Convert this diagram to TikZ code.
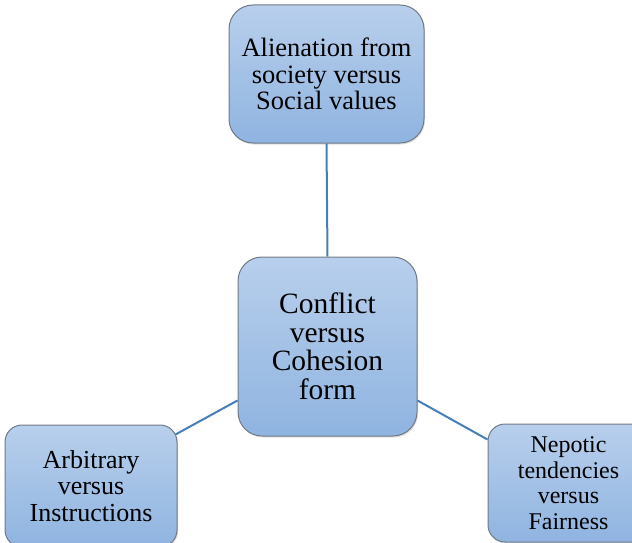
\documentclass[tikz,border=0pt]{standalone}
\usepackage{fontspec}
\setmainfont{Liberation Serif}
\usetikzlibrary{calc,shadows}
\definecolor{BoxTop}{RGB}{184,207,236}
\definecolor{BoxBottom}{RGB}{143,180,224}
\definecolor{BoxEdge}{RGB}{112,122,136}
\definecolor{LinkBlue}{RGB}{70,126,186}
\begin{document}
\begin{tikzpicture}[x=1pt,y=1pt,
    box/.style={draw=BoxEdge,line width=1pt,top color=BoxTop,bottom color=BoxBottom,
                align=center,inner sep=0pt,
                drop shadow={opacity=.25,shadow xshift=1pt,shadow yshift=-1.5pt}},
    link/.style={LinkBlue,line width=2pt}]
    \useasboundingbox (0,0) rectangle (632,-543);
    \node[box,rounded corners=24pt,minimum width=179pt,minimum height=179pt,
          font=\fontsize{29.5}{28.5}\selectfont] (conflict) at (327.5,-346.5)
          {Conflict\\versus\\Cohesion\\form};
    \node[box,rounded corners=24pt,minimum width=195pt,minimum height=138pt,
          font=\fontsize{26.5}{26.5}\selectfont] (alien) at (326.5,-74)
          {Alienation from\\society versus\\Social values};
    \node[box,rounded corners=17pt,minimum width=172pt,minimum height=122pt,
          font=\fontsize{26}{26.5}\selectfont] (arbit) at (91,-486)
          {Arbitrary\\versus\\Instructions};
    \node[box,rounded corners=17pt,minimum width=161pt,minimum height=118pt,
          font=\fontsize{24}{25.5}\selectfont] (nepot) at (568.5,-483)
          {Nepotic\\tendencies\\versus\\Fairness};
    % links between the center and the outer boxes
    \draw[link] (alien.south) -- (conflict.north);
    \draw[link] ($(conflict.south west)!.2!(conflict.north west)$) -- ($(arbit.north east)+(-2,-10)$);
    \draw[link] ($(conflict.south east)!.2!(conflict.north east)$) -- ($(nepot.north west)+(0,-16)$);
\end{tikzpicture}
\end{document}
